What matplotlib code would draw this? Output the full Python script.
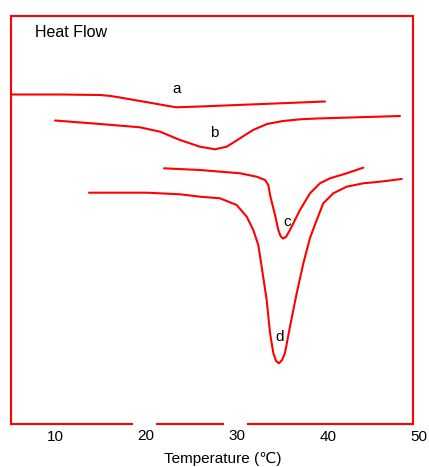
import matplotlib
matplotlib.use("Agg")
import matplotlib.pyplot as plt
from matplotlib.patches import Rectangle
from matplotlib.transforms import blended_transform_factory

plt.rcParams['font.family'] = ['Liberation Sans', 'DejaVu Sans']

# Temperature (°C) and heat flow (arbitrary units)
a_T = [5.16, 10.55, 14.95, 16.10, 17.14, 19.34, 21.54, 23.30, 25.93, 31.43, 36.92, 39.67]
a_H = [32.95, 32.95, 32.90, 32.80, 32.65, 32.30, 31.95, 31.67, 31.75, 31.95, 32.15, 32.25]

b_T = [10.00, 14.95, 19.34, 21.54, 23.74, 25.93, 27.58, 28.87, 30.33, 31.76, 33.30, 35.05, 36.92, 38.79, 47.91]
b_H = [30.35, 30.00, 29.67, 29.23, 28.40, 27.73, 27.47, 27.73, 28.57, 29.40, 30.00, 30.30, 30.47, 30.55, 30.80]

c_T = [21.98, 25.93, 30.33, 32.16, 33.08, 33.44, 33.63, 33.81, 34.18, 34.54, 34.78, 35.05, 35.38, 35.82,
       36.37, 36.92, 38.02, 39.12, 40.22, 42.05, 43.88]
c_H = [25.57, 25.40, 25.07, 24.73, 24.40, 23.90, 22.90, 22.23, 20.90, 19.40, 18.80, 18.55, 18.70, 19.40,
       20.40, 21.40, 23.07, 24.07, 24.57, 25.07, 25.63]

d_T = [13.74, 20.11, 23.74, 25.93, 28.13, 29.96, 31.07, 31.79, 32.34, 32.71, 33.26, 33.63, 33.99, 34.29,
       34.62, 34.95, 35.27, 35.82, 36.56, 37.29, 38.02, 38.76, 39.48, 40.58, 42.05, 43.88, 45.71, 48.10]
d_H = [23.13, 23.13, 22.97, 22.73, 22.57, 21.90, 20.73, 19.40, 17.90, 15.73, 12.40, 9.10, 7.10, 6.30,
       6.07, 6.40, 7.10, 9.73, 13.07, 16.07, 18.60, 20.40, 22.07, 23.07, 23.73, 24.07, 24.23, 24.50]

curve_labels = ['a', 'b', 'c', 'd']
label_T = [23.41, 27.47, 35.46, 34.73]
label_H = [33.5, 29.1, 20.23, 8.73]

tick_values = [10, 20, 30, 40, 50]
tick_labels = ['10', '20', '30', '40', '50']

fig = plt.figure(figsize=(4.29, 4.67), dpi=100)
ax = fig.add_axes([11/429, 1 - 424/467, 402/429, 408/467])

red = '#ff0000'
for T, H in [(a_T, a_H), (b_T, b_H), (c_T, c_H), (d_T, d_H)]:
    ax.plot(T, H, color=red, lw=1.5, solid_joinstyle='round', solid_capstyle='round')

for lab, t, h in zip(curve_labels, label_T, label_H):
    ax.text(t, h, lab, fontsize=11, ha='center', va='center', color='black')

ax.set_xlim(5.165, 49.34)
ax.set_ylim(0, 40.8)
ax.set_xticks([])
ax.set_yticks([])
for s in ax.spines.values():
    s.set_color(red)
    s.set_linewidth(1.5)

trans = blended_transform_factory(ax.transData, ax.transAxes)
ty = [-13/408, -12/408, -12/408, -13/408, -13/408]
for v, l, yy in zip(tick_values, tick_labels, ty):
    ax.text(v, yy, l, transform=trans, fontsize=11, ha='center', va='center', clip_on=False)

# white gaps in the bottom frame near 20 and 30
for x0 in [(133 - 11) / 402, (224 - 11) / 402]:
    ax.add_patch(Rectangle((x0, -0.012), 23/402, 0.02, transform=ax.transAxes,
                           facecolor='white', edgecolor='none', clip_on=False, zorder=5))

ax.text((35 - 11) / 402, (424 - 33) / 408, 'Heat Flow', transform=ax.transAxes,
        fontsize=11.5, ha='left', va='center')

fig.text(222.5/429, 1 - 459/467, 'Temperature (℃)', fontsize=11, ha='center', va='center')

fig.savefig('out.png', dpi=100)
